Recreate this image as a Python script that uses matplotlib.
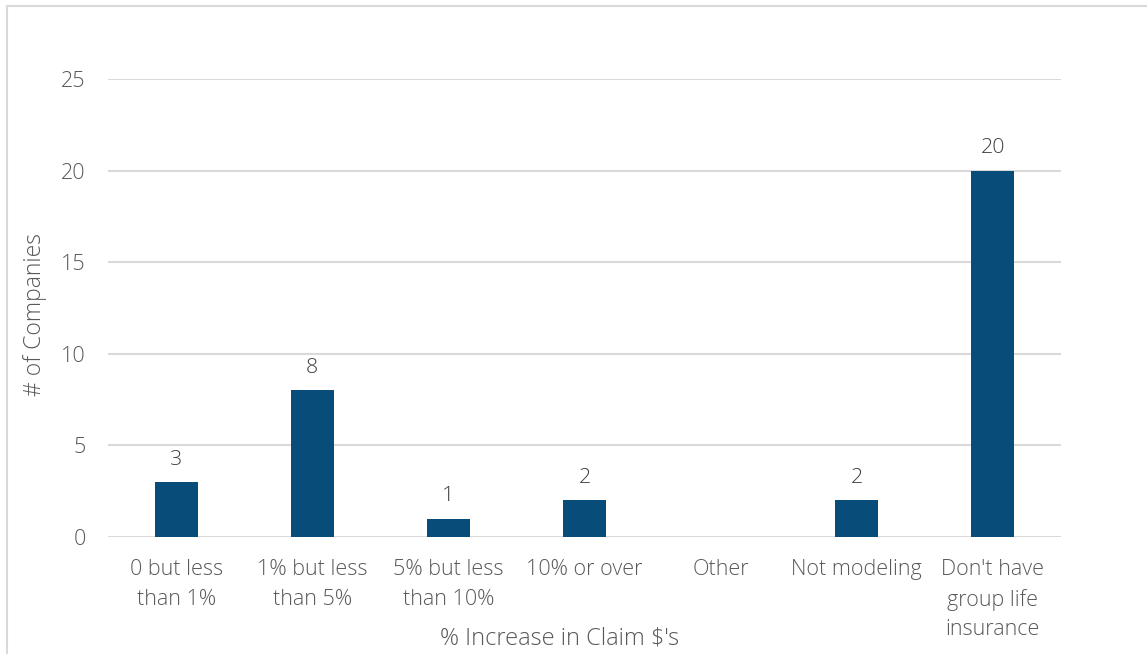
import matplotlib
matplotlib.use("Agg")
import matplotlib.pyplot as plt
from matplotlib.patches import Rectangle

categories = ["0 but less\nthan 1%", "1% but less\nthan 5%", "5% but less\nthan 10%",
              "10% or over", "Other", "Not modeling", "Don't have\ngroup life\ninsurance"]
values = [3, 8, 1, 2, 0, 2, 20]
data_labels = ["3", "8", "1", "2", "", "2", "20"]
y_ticks = [0, 5, 10, 15, 20, 25]

plt.rcParams['font.family'] = ['Open Sans', 'DejaVu Sans']
text_color = "#595959"
bar_color = "#084c7a"

fig = plt.figure(figsize=(11.47, 6.54), dpi=100)
fig.patches.append(Rectangle((7/1147, -0.01), 1.1, 1 - 6/654 + 0.01, transform=fig.transFigure,
                             fill=False, edgecolor="#d9d9d9", linewidth=1.5))
ax = fig.add_axes([108/1147, 1 - 537/654, (1061 - 108)/1147, (537 - 79)/654])

x = range(len(categories))
bars = ax.bar(x, values, width=0.316, color=bar_color, zorder=3)
for xi, v, lab in zip(x, values, data_labels):
    if lab:
        ax.annotate(lab, (xi, v), xytext=(0, 9), textcoords="offset points",
                    ha="center", va="bottom", fontsize=15.4, color="#404040", fontweight="light")

ax.set_xlim(-0.5, len(categories) - 0.5)
ax.set_ylim(0, 25)
ax.set_yticks(y_ticks)
ax.set_xticks(list(x))
ax.set_xticklabels(categories, linespacing=1.52, fontweight="light")
ax.tick_params(axis="both", length=0, labelsize=15.5, colors=text_color)
ax.tick_params(axis="x", pad=16)
ax.tick_params(axis="y", pad=16)
for lbl in ax.get_yticklabels():
    lbl.set_fontweight("light")
ax.grid(axis="y", color="#d9d9d9", linewidth=1.5, zorder=0)
for s in ax.spines.values():
    s.set_visible(False)

fig.text(560/1147, 1 - 638/654, "% Increase in Claim $'s", ha="center", va="center",
         fontsize=17, color=text_color, fontweight="light")
fig.text(35/1147, 1 - 315/654, "# of Companies", ha="center", va="center", rotation=90,
         fontsize=16.5, color=text_color, fontweight="light")

fig.savefig("out.png", dpi=100)
